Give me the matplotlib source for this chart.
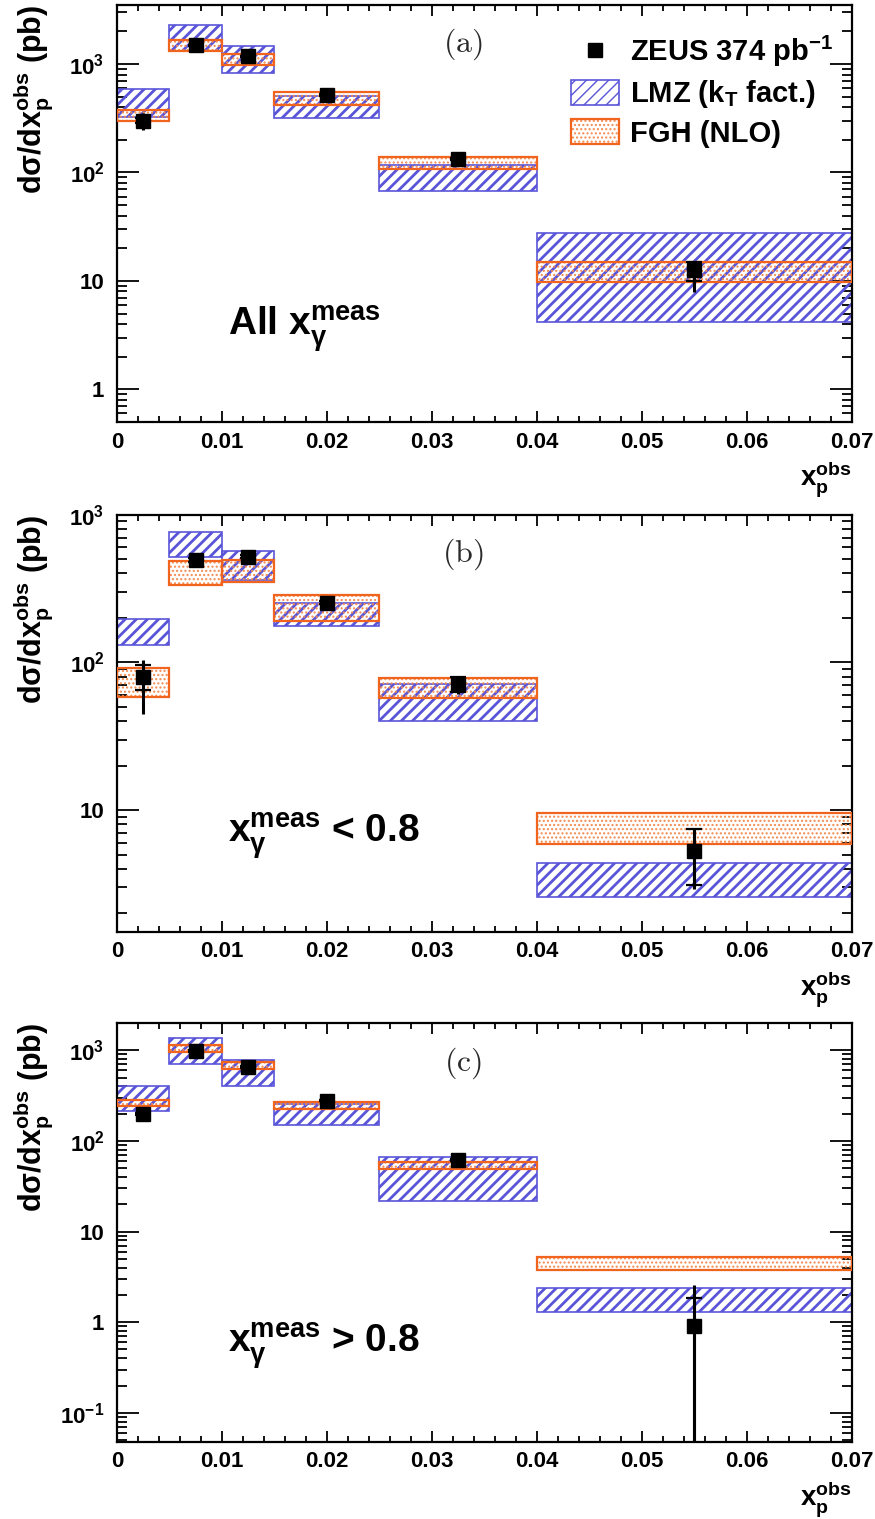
import numpy as np
import matplotlib
matplotlib.use('Agg')
import matplotlib.pyplot as plt
from matplotlib.lines import Line2D
from matplotlib.patches import Patch
from matplotlib.legend_handler import HandlerTuple
from matplotlib.ticker import MultipleLocator, LogLocator, NullFormatter, FuncFormatter

plt.rcParams['font.family'] = ['Liberation Sans', 'DejaVu Sans']
plt.rcParams['font.weight'] = 'bold'
plt.rcParams['axes.labelweight'] = 'bold'
plt.rcParams['mathtext.fontset'] = 'custom'
plt.rcParams['mathtext.rm'] = 'Liberation Sans:bold'
plt.rcParams['mathtext.bf'] = 'Liberation Sans:bold'
plt.rcParams['mathtext.it'] = 'Liberation Sans'
plt.rcParams['mathtext.default'] = 'bf'

# bin edges in x_p^obs
edges = [0.0, 0.005, 0.01, 0.015, 0.025, 0.04, 0.07]
x_pts = [0.0025, 0.0075, 0.0125, 0.02, 0.0325, 0.055]

# (a) all x_gamma
zeus_a = [301, 1485, 1175, 521, 133, 12.6]
tot_lo_a = [244, 1420, 1120, 500, 124, 7.9]
tot_hi_a = [350, 1550, 1230, 545, 142, 15.4]
stat_lo_a = [285, 1460, 1155, 512, 129, 9.9]
stat_hi_a = [318, 1510, 1195, 530, 137, 15.0]
lmz_lo_a = [328, 1307, 826, 321, 67.6, 4.2]
lmz_hi_a = [592, 2270, 1453, 510, 117, 27.5]
fgh_lo_a = [299, 1320, 970, 421, 107, 9.7]
fgh_hi_a = [378, 1652, 1237, 551, 140, 15.0]

# (b) x_gamma < 0.8
zeus_b = [80, 493, 520, 254, 71, 5.3]
tot_lo_b = [45, 470, 498, 243, 61, 2.9]
tot_hi_b = [104, 517, 543, 266, 81, 7.5]
stat_lo_b = [65, 480, 508, 248, 63, 3.1]
stat_hi_b = [96, 506, 532, 260, 79, 7.5]
lmz_lo_b = [131, 515, 362, 175, 40.3, 2.57]
lmz_hi_b = [196, 767, 570, 251, 71.4, 4.4]
fgh_lo_b = [58.6, 334, 352, 191, 57.7, 5.9]
fgh_hi_b = [91, 489, 493, 286, 78.7, 9.5]

# (c) x_gamma > 0.8
zeus_c = [200, 975, 656, 279, 62, 0.914]
tot_lo_c = [190, 935, 630, 268, 59, 0.001]
tot_hi_c = [211, 1015, 683, 290, 65, 2.6]
stat_lo_c = [194, 950, 642, 273, 60.5, 0.001]
stat_hi_c = [206, 1000, 670, 285, 63.5, 1.85]
lmz_lo_c = [212, 712, 401, 149, 22, 1.28]
lmz_hi_c = [401, 1370, 789, 256, 66, 2.38]
fgh_lo_c = [241, 960, 623, 225, 49.5, 3.73]
fgh_hi_c = [286, 1156, 738, 267, 59, 5.3]

BLUE = '#5a55d8'
ORANGE = '#f0641e'
DOTS = '#f28a50'
BLUE_HATCH = '///'
DOT_HATCH = '....'


def hatch_lw(artists, lw):
    for a in artists:
        if hasattr(a, 'set_hatch_linewidth'):
            a.set_hatch_linewidth(lw)


def y_fmt(v, pos):
    e = int(round(np.log10(v)))
    if e == 0:
        return '1'
    if e == 1:
        return '10'
    return r'$10^{%d}$' % e


def draw_panel(ax, tag, text, text_y, ylim, zeus, tlo, thi, slo, shi, llo, lhi, flo, fhi):
    left = np.array(edges[:-1])
    width = np.diff(edges)
    llo, lhi, flo, fhi = map(np.array, (llo, lhi, flo, fhi))
    with plt.rc_context({'hatch.linewidth': 2.0}):
        b1 = ax.bar(left, lhi - llo, bottom=llo, width=width, align='edge',
                    facecolor='none', edgecolor=BLUE, hatch=BLUE_HATCH, linewidth=1.2, zorder=2)
    hatch_lw(b1, 2.0)
    with plt.rc_context({'hatch.linewidth': 1.0}):
        b2 = ax.bar(left, fhi - flo, bottom=flo, width=width, align='edge',
                    facecolor='none', edgecolor=DOTS, hatch=DOT_HATCH, linewidth=0, zorder=3)
    hatch_lw(b2, 1.0)
    ax.bar(left, fhi - flo, bottom=flo, width=width, align='edge',
           fill=False, edgecolor=ORANGE, linewidth=1.6, zorder=3)

    y = np.array(zeus)
    ax.errorbar(x_pts, y, yerr=[y - np.array(tlo), np.array(thi) - y], fmt='none',
                ecolor='black', elinewidth=2.2, capsize=0, zorder=5)
    ax.errorbar(x_pts, y, yerr=[y - np.array(slo), np.array(shi) - y], fmt='none',
                ecolor='black', elinewidth=2.2, capsize=6, capthick=1.6, zorder=5)
    ax.plot(x_pts, y, 's', color='black', markersize=9.5, zorder=6)

    ax.set_yscale('log')
    ax.set_xlim(0, 0.07)
    ax.set_ylim(*ylim)
    ax.xaxis.set_major_locator(MultipleLocator(0.01))
    ax.xaxis.set_minor_locator(MultipleLocator(0.002))
    ax.xaxis.set_major_formatter(FuncFormatter(lambda v, p: '0' if abs(v) < 1e-9 else '%g' % v))
    ax.yaxis.set_major_locator(LogLocator(base=10, numticks=20))
    ax.yaxis.set_minor_locator(LogLocator(base=10, subs=np.arange(2, 10), numticks=20))
    ax.yaxis.set_major_formatter(FuncFormatter(y_fmt))
    ax.yaxis.set_minor_formatter(NullFormatter())
    ax.tick_params(which='both', direction='in', top=True, right=True, labelsize=16, width=1.3)
    ax.tick_params(axis='x', which='major', length=8, pad=7)
    ax.tick_params(axis='x', which='minor', length=4)
    ax.tick_params(axis='y', which='major', length=16, pad=9)
    ax.tick_params(axis='y', which='minor', length=7)
    for s in ax.spines.values():
        s.set_linewidth(1.6)

    ax.set_ylabel(r'd$\mathit{\sigma}$/dx$_{p}^{obs}$ (pb)', fontsize=22, loc='top')
    ax.yaxis.set_label_coords(-0.085, 1.0)
    ax.set_xlabel(r'$x_{p}^{obs}$', fontsize=20, loc='right')
    ax.xaxis.set_label_coords(1.0, -0.09)

    ax.text(0.471, 0.905, r'$\mathrm{(%s)}$' % tag, transform=ax.transAxes, fontsize=23,
            ha='center', va='center', math_fontfamily='cm', color='#2a2a2a')
    ax.text(0.151, text_y, text, transform=ax.transAxes, fontsize=28, ha='left', va='baseline')


fig = plt.figure(figsize=(8.75, 15.19), dpi=100)
ax_a = fig.add_axes([0.1337, 0.7222, 0.84, 0.2745])
ax_b = fig.add_axes([0.1337, 0.3866, 0.84, 0.2746])
ax_c = fig.add_axes([0.1337, 0.0509, 0.84, 0.2756])

draw_panel(ax_a, 'a', r'All $x_{\mathit{\gamma}}^{meas}$', 0.209, (0.5, 3500),
           zeus_a, tot_lo_a, tot_hi_a, stat_lo_a, stat_hi_a, lmz_lo_a, lmz_hi_a, fgh_lo_a, fgh_hi_a)
draw_panel(ax_b, 'b', r'$x_{\mathit{\gamma}}^{meas}$ < 0.8', 0.215, (1.5, 1000),
           zeus_b, tot_lo_b, tot_hi_b, stat_lo_b, stat_hi_b, lmz_lo_b, lmz_hi_b, fgh_lo_b, fgh_hi_b)
draw_panel(ax_c, 'c', r'$x_{\mathit{\gamma}}^{meas}$ > 0.8', 0.214, (0.048, 2000),
           zeus_c, tot_lo_c, tot_hi_c, stat_lo_c, stat_hi_c, lmz_lo_c, lmz_hi_c, fgh_lo_c, fgh_hi_c)

# legend in panel (a)
h_data = Line2D([], [], marker='s', color='black', linestyle='none', markersize=9.5)
with plt.rc_context({'hatch.linewidth': 2.0}):
    h_lmz = Patch(facecolor='white', edgecolor=BLUE, hatch=BLUE_HATCH, linewidth=1.2)
with plt.rc_context({'hatch.linewidth': 1.0}):
    h_fgh_fill = Patch(facecolor='white', edgecolor=DOTS, hatch=DOT_HATCH, linewidth=0)
h_fgh_edge = Patch(fill=False, edgecolor=ORANGE, linewidth=1.6)
hatch_lw([h_lmz], 2.0)
hatch_lw([h_fgh_fill], 1.0)
ax_a.legend([h_data, h_lmz, (h_fgh_fill, h_fgh_edge)],
            [r'ZEUS 374 pb$^{-1}$', r'LMZ (k$_{T}$ fact.)', 'FGH (NLO)'],
            handler_map={tuple: HandlerTuple(ndivide=1, pad=0)},
            loc='upper left', bbox_to_anchor=(0.618, 0.93), frameon=False,
            fontsize=21, handlelength=1.65, handleheight=0.95, handletextpad=0.35,
            labelspacing=0.3, borderpad=0, borderaxespad=0)

fig.savefig('out.png', dpi=100)
